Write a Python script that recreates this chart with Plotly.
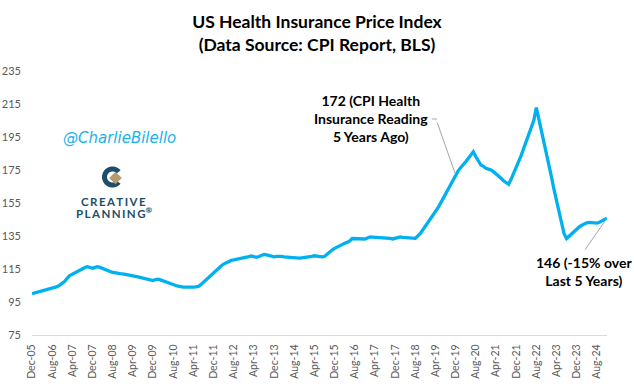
import numpy as np
import pandas as pd
import plotly.graph_objects as go

# ---------------- data (monthly index, Dec-2005 = 100) ----------------
v2005 = [100.0]  # Dec-05
v2006 = [100.4, 100.8, 101.2, 101.8, 102.2, 102.6, 103.0, 103.3, 103.5, 104.3, 105.2, 106.3]
v2007 = [107.5, 109.5, 111.0, 111.8, 112.6, 113.5, 114.5, 115.4, 115.9, 116.4, 116.0, 115.4]
v2008 = [116.0, 116.4, 116.0, 115.3, 114.6, 113.8, 113.5, 113.0, 112.6, 112.4, 112.2, 112.0]
v2009 = [111.8, 111.6, 111.2, 110.8, 110.6, 110.2, 109.8, 109.4, 109.0, 108.6, 108.2, 108.0]
v2010 = [108.6, 108.8, 108.4, 107.8, 107.0, 106.4, 105.8, 105.4, 105.0, 104.6, 104.2, 104.0]
v2011 = [104.0, 103.9, 104.0, 104.0, 104.2, 104.5, 105.5, 107.0, 108.5, 110.0, 111.3, 112.8]
v2012 = [114.2, 115.6, 116.8, 118.0, 118.9, 119.6, 120.2, 120.5, 120.8, 121.0, 121.3, 121.5]
v2013 = [122.0, 122.5, 122.9, 122.5, 122.1, 122.6, 123.3, 123.8, 123.5, 123.0, 122.6, 122.4]
v2014 = [122.6, 122.8, 122.6, 122.4, 122.3, 122.0, 121.8, 121.6, 121.5, 121.6, 121.8, 121.9]
v2015 = [122.0, 122.1, 122.6, 123.0, 122.8, 122.5, 122.4, 122.6, 124.0, 125.5, 126.5, 127.5]
v2016 = [128.4, 129.1, 129.8, 130.6, 131.1, 132.0, 133.5, 133.4, 133.3, 133.2, 133.0, 133.2]
v2017 = [133.8, 134.4, 134.3, 134.2, 134.0, 134.0, 134.1, 134.2, 134.0, 133.6, 133.2, 133.6]
v2018 = [134.0, 134.4, 134.2, 134.0, 133.8, 133.7, 133.5, 133.6, 135.0, 136.5, 138.8, 141.0]
v2019 = [143.0, 145.0, 147.2, 149.5, 152.0, 154.8, 157.5, 160.5, 163.5, 166.5, 169.5, 172.0]
v2020 = [174.5, 176.5, 178.0, 180.0, 182.0, 184.0, 186.0, 183.0, 180.0, 178.0, 177.2, 176.0]
v2021 = [175.5, 175.0, 174.0, 172.8, 171.4, 170.0, 168.5, 167.3, 166.3, 169.5, 173.0, 176.0]
v2022 = [180.0, 184.0, 188.0, 192.0, 196.5, 200.5, 205.0, 212.8, 206.0, 198.5, 191.5, 184.5]
v2023 = [177.5, 170.5, 163.5, 156.5, 149.5, 142.5, 136.5, 133.5, 135.0, 136.5, 138.0, 139.5]
v2024 = [140.5, 141.5, 142.5, 143.0, 143.3, 143.0, 142.8, 142.8, 143.3, 144.0, 144.8, 145.8]

values = (v2005 + v2006 + v2007 + v2008 + v2009 + v2010 + v2011 + v2012 + v2013 +
          v2014 + v2015 + v2016 + v2017 + v2018 + v2019 + v2020 + v2021 + v2022 +
          v2023 + v2024)
dates = pd.date_range("2005-12-01", periods=len(values), freq="MS")

tick_dates = pd.date_range("2005-12-01", "2024-08-01", freq="8MS")
tick_labels = [d.strftime("%b-%y") for d in tick_dates]
y_ticks = [75, 95, 115, 135, 155, 175, 195, 215, 235]

idx_5y_ago = len(values) - 1 - 60
idx_last = len(values) - 1

# ---------------- layout geometry helpers ----------------
W, H = 634, 391
ML, MR, MT, MB = 32, 27, 71, 56
PW, PH = W - ML - MR, H - MT - MB


def px(x):
    return (x - ML) / PW


def py(y):
    return (H - MB - y) / PH


fig = go.Figure()
fig.add_trace(go.Scatter(x=dates, y=values, mode="lines",
                         line=dict(color="#00b0f0", width=3.3),
                         hoverinfo="x+y", showlegend=False))

TXT = "#000000"
GRAY = "#595959"
annotations = []

# callout: 5 years ago
annotations.append(dict(
    xref="paper", yref="paper", x=px(371), y=py(119),
    text="172 (CPI Health<br>Insurance Reading<br>5 Years Ago)",
    showarrow=False, xanchor="center", yanchor="middle", align="center",
    font=dict(family="Lato", size=14, color=TXT, weight="bold")))
annotations.append(dict(
    x=dates[idx_5y_ago], y=values[idx_5y_ago], xref="x", yref="y",
    text="", showarrow=True, arrowhead=0, arrowwidth=1, arrowcolor="#a6a6a6",
    ax=-19, ay=-54, standoff=2))

# callout: latest
annotations.append(dict(
    xref="paper", yref="paper", x=px(584), y=py(271),
    text="146 (-15% over<br>Last 5 Years)",
    showarrow=False, xanchor="center", yanchor="middle", align="center",
    font=dict(family="Lato", size=14, color=TXT, weight="bold")))
annotations.append(dict(
    x=dates[idx_last], y=values[idx_last], xref="x", yref="y",
    text="", showarrow=True, arrowhead=0, arrowwidth=1, arrowcolor="#a6a6a6",
    ax=-23, ay=33, standoff=1))

# watermark
annotations.append(dict(
    xref="paper", yref="paper", x=px(119), y=py(138),
    text="@CharlieBilello", showarrow=False, xanchor="center", yanchor="middle",
    font=dict(family="DejaVu Sans", size=15, color="#1ab2ea", style="italic")))

# logo text
thin = "\u2009"
annotations.append(dict(
    xref="paper", yref="paper", x=px(113), y=py(201),
    text=thin.join("CREATIVE"), showarrow=False, xanchor="center", yanchor="middle",
    font=dict(family="Lato", size=11.5, color="#1d4f6b", weight="bold")))
annotations.append(dict(
    xref="paper", yref="paper", x=px(114), y=py(212),
    text=thin.join("PLANNING") + "<sup>®</sup>", showarrow=False, xanchor="center",
    yanchor="middle",
    font=dict(family="Lato", size=11.5, color="#1d4f6b", weight="bold")))

shapes = []
# small horizontal leader segment
shapes.append(dict(type="line", xref="paper", yref="paper",
                   x0=px(432), y0=py(119), x1=px(437), y1=py(119),
                   line=dict(color="#a6a6a6", width=1)))

# logo icon: "C" ring
cx, cy, ro, ri = 112.5, 177.0, 10.5, 5.5
ang = np.linspace(np.deg2rad(40), np.deg2rad(320), 40)
outer = [(cx + ro * np.cos(a), cy - ro * np.sin(a)) for a in ang]
inner = [(cx + ri * np.cos(a), cy - ri * np.sin(a)) for a in ang[::-1]]
pts = outer + inner
path = "M " + " L ".join(f"{px(x):.5f},{py(y):.5f}" for x, y in pts) + " Z"
shapes.append(dict(type="path", xref="paper", yref="paper", path=path,
                   fillcolor="#1d4f6b", line=dict(width=0)))
# diamond
dx, dy, hs = 115.5, 178.0, 6.3
dpts = [(dx, dy - hs), (dx + hs, dy), (dx, dy + hs), (dx - hs, dy)]
dpath = "M " + " L ".join(f"{px(x):.5f},{py(y):.5f}" for x, y in dpts) + " Z"
shapes.append(dict(type="path", xref="paper", yref="paper", path=dpath,
                   fillcolor="#b59b6e", line=dict(width=0)))

fig.update_layout(
    width=W, height=H,
    margin=dict(l=ML, r=MR, t=MT, b=MB, pad=0),
    paper_bgcolor="white", plot_bgcolor="white",
    title=dict(text="US Health Insurance Price Index<br>(Data Source: CPI Report, BLS)",
               x=0.5, xref="container", xanchor="center", y=1 - 28 / H, yref="container",
               yanchor="middle",
               font=dict(family="Lato", size=17.5, color=TXT, weight="bold")),
    annotations=annotations, shapes=shapes,
    xaxis=dict(type="date", range=[dates[0], dates[-1]],
               tickmode="array", tickvals=tick_dates, ticktext=tick_labels,
               tickangle=-90, showgrid=False, zeroline=False,
               showline=True, linecolor="#d9d9d9", linewidth=1.3, ticks="",
               tickfont=dict(family="Lato", size=10.5, color=GRAY),
               ticklabelstandoff=4, automargin=False),
    yaxis=dict(range=[75, 235], tickmode="array", tickvals=y_ticks,
               showgrid=False, zeroline=False, showline=False, ticks="",
               tickfont=dict(family="Lato", size=11, color=GRAY),
               ticklabelstandoff=10, automargin=False),
    showlegend=False,
)

fig.write_html("out.html",
               config={"displayModeBar": False},
               post_script="document.body.style.margin='0px';"
                           "document.body.style.overflow='hidden';")
